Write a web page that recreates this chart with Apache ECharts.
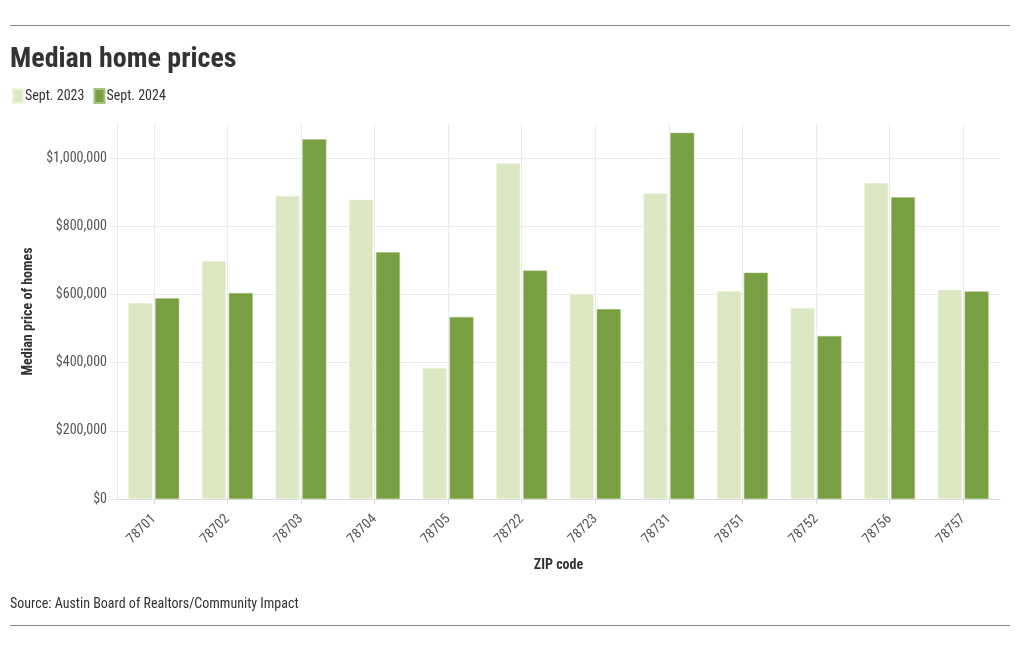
<!DOCTYPE html>
<html>
<head>
<meta charset="utf-8">
<script src="https://cdn.jsdelivr.net/npm/echarts@6/dist/echarts.min.js"></script>
<style>
html,body{margin:0;padding:0;background:#fff;}
#chart{width:1020px;height:650px;}
</style>
</head>
<body>
<div id="chart"></div>
<script>
const categories = ['78701','78702','78703','78704','78705','78722','78723','78731','78751','78752','78756','78757'];
const sept2023 = [575000, 698000, 889000, 878000, 384000, 985000, 601000, 896000, 610000, 560000, 927000, 614000];
const sept2024 = [589000, 604000, 1055000, 724000, 534000, 670000, 557000, 1074000, 664000, 478000, 885000, 609000];
const seriesNames = ['Sept. 2023', 'Sept. 2024'];
const yTicks = {min: 0, max: 1100000, interval: 200000};

const FONT = '"Roboto Condensed", "Liberation Sans Narrow", "DejaVu Sans Condensed", Roboto, sans-serif';
const chart = echarts.init(document.getElementById('chart'));
const gridColor = '#ebebeb';

chart.setOption({
  backgroundColor: '#fff',
  animation: false,
  textStyle: {fontFamily: FONT},
  title: {
    text: 'Median home prices',
    left: 5, top: 41,
    textStyle: {fontFamily: FONT, fontSize: 28, fontWeight: 'bold', color: '#333'}
  },
  legend: {
    left: 12, top: 88, padding: 0,
    itemWidth: 10, itemHeight: 14, itemGap: 9,
    icon: 'rect',
    textStyle: {fontFamily: FONT, fontSize: 14, color: '#333', padding: [0, 0, 0, -3]},
    data: seriesNames
  },
  grid: {left: 117, right: 20, top: 124, bottom: 151, containLabel: false},
  xAxis: {
    type: 'category',
    data: categories,
    name: 'ZIP code',
    nameLocation: 'middle',
    nameGap: 59,
    nameTextStyle: {fontFamily: FONT, fontSize: 14, fontWeight: 'bold', color: '#333'},
    axisLine: {lineStyle: {color: '#dcdcdc'}},
    axisTick: {show: true, alignWithLabel: true, length: 5, lineStyle: {color: '#dcdcdc'}},
    axisLabel: {rotate: 45, fontFamily: FONT, fontSize: 14, color: '#555', margin: 18},
    splitLine: {show: false}
  },
  yAxis: {
    type: 'value',
    min: yTicks.min, max: yTicks.max, interval: yTicks.interval,
    name: 'Median price of homes',
    nameLocation: 'middle',
    nameGap: 81,
    nameTextStyle: {fontFamily: FONT, fontSize: 14, fontWeight: 'bold', color: '#333'},
    axisLine: {show: true, lineStyle: {color: '#e6e6e6'}},
    axisTick: {show: true, length: 7, lineStyle: {color: '#e6e6e6'}},
    axisLabel: {
      fontFamily: FONT, fontSize: 14, color: '#555', margin: 10,
      showMaxLabel: false,
      formatter: v => (v > 1000000 ? '' : '$' + v.toLocaleString('en-US'))
    },
    splitLine: {lineStyle: {color: [gridColor, gridColor, gridColor, gridColor, gridColor, gridColor, 'rgba(0,0,0,0)']}}
  },
  series: [
    {
      name: 'grid-centers', type: 'line', data: categories.map(() => null),
      symbol: 'none', silent: true, z: 1,
      markLine: {
        silent: true, symbol: 'none', label: {show: false},
        lineStyle: {color: gridColor, width: 1, type: 'solid'},
        data: categories.map(c => ({xAxis: c}))
      }
    },
    {
      name: seriesNames[0], type: 'bar', data: sept2023,
      barGap: '12%', barCategoryGap: '31%',
      itemStyle: {color: '#dce8c4', borderColor: '#eef4e2', borderWidth: 0.5},
      z: 2
    },
    {
      name: seriesNames[1], type: 'bar', data: sept2024,
      itemStyle: {color: '#789f41', borderColor: '#a9c27f', borderWidth: 0.5},
      z: 3
    }
  ],
  graphic: [
    {type: 'line', shape: {x1: 10, y1: 25.5, x2: 1010, y2: 25.5}, style: {stroke: '#888', lineWidth: 1}},
    {type: 'line', shape: {x1: 10, y1: 625.5, x2: 1010, y2: 625.5}, style: {stroke: '#888', lineWidth: 1}},
    {type: 'text', left: 10, top: 597, style: {text: 'Source: Austin Board of Realtors/Community Impact', font: '14px ' + FONT, fill: '#333'}}
  ]
});
</script>
</body>
</html>
